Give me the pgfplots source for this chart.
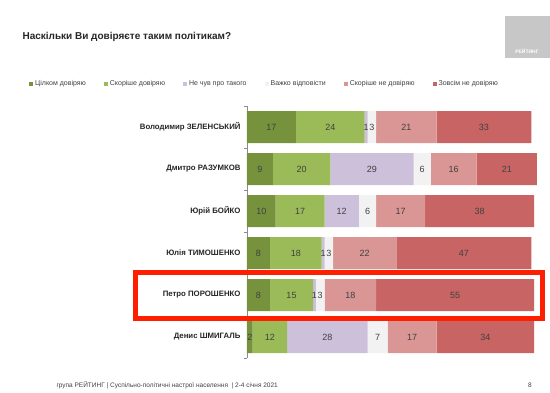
\documentclass[border=0pt]{standalone}
\usepackage{pgfplots}
\pgfplotsset{compat=1.18}
\usepackage{fontspec}
\setmainfont{Liberation Sans}
\definecolor{cA}{RGB}{118,146,60}
\definecolor{cB}{RGB}{155,187,89}
\definecolor{cC}{RGB}{204,192,218}
\definecolor{cD}{RGB}{242,242,242}
\definecolor{cE}{RGB}{217,150,148}
\definecolor{cF}{RGB}{200,100,100}
\definecolor{txt}{RGB}{64,64,64}
\begin{document}
\begin{tikzpicture}
\path[fill=white] (0pt,0pt) rectangle (550pt,-393pt);
% logo
\fill[black!22] (505pt,-16pt) rectangle (550pt,-58pt);
\node[font=\fontsize{5}{6}\selectfont\bfseries, text=white, anchor=south] at (527pt,-57pt) {РЕЙТИНГ};
% title
\node[anchor=west, font=\fontsize{10}{12}\selectfont\bfseries, text=black!85] at (19pt,-37pt) {Наскільки Ви довіряєте таким політикам?};
\begin{axis}[
  at={(247pt,-358pt)}, anchor=south west,
  scale only axis, width=290pt, height=252pt,
  xbar stacked, bar width=32pt,
  xmin=0, xmax=101,
  ymin=-0.5, ymax=5.5, y dir=reverse,
  ytick={0,...,5},
  yticklabels={Володимир ЗЕЛЕНСЬКИЙ, Дмитро РАЗУМКОВ, Юрій БОЙКО, Юлія ТИМОШЕНКО, Петро ПОРОШЕНКО, Денис ШМИГАЛЬ},
  yticklabel style={font=\fontsize{7.8}{9}\selectfont\bfseries, text=black!85, xshift=-3pt},
  minor ytick={-0.5,0.5,...,5.5},
  major tick length=0pt, minor tick length=3pt, tick align=outside,
  axis x line=none, axis y line*=left,
  y axis line style={draw=black!45, -},
  every minor tick/.style={draw=black!45},
  /pgf/number format/assume math mode=true,
  nodes near coords,
  every node near coord/.append style={font=\fontsize{9}{10}\selectfont, text=txt},
  legend columns=6,
  legend style={at={(-0.762,1.087)}, anchor=west, draw=none, fill=none,
    font=\fontsize{7}{8}\selectfont, text=black!75,
    /tikz/every even column/.append style={column sep=16pt}},
  legend image code/.code={\fill[#1] (0pt,-2pt) rectangle (4pt,2pt);},
  legend cell align=left,
]
\addplot[fill=cA, draw=none] coordinates {(17,0) (9,1) (10,2) (8,3) (8,4) (2,5)};
\addplot[fill=cB, draw=none] coordinates {(24,0) (20,1) (17,2) (18,3) (15,4) (12,5)};
\addplot[fill=cC, draw=none] coordinates {(1,0) (29,1) (12,2) (1,3) (1,4) (28,5)};
\addplot[fill=cD, draw=none] coordinates {(3,0) (6,1) (6,2) (3,3) (3,4) (7,5)};
\addplot[fill=cE, draw=none] coordinates {(21,0) (16,1) (17,2) (22,3) (18,4) (17,5)};
\addplot[fill=cF, draw=none] coordinates {(33,0) (21,1) (38,2) (47,3) (55,4) (34,5)};
\legend{Цілком довіряю, Скоріше довіряю, Не чув про такого, Важко відповісти, Скоріше не довіряю, Зовсім не довіряю}
\end{axis}
% highlight
\draw[line width=5pt, color={rgb,255:red,255;green,30;blue,0}] (135.5pt,-272.5pt) rectangle (542.5pt,-318.5pt);
% footer
\node[anchor=west, font=\fontsize{6.5}{8}\selectfont, text=black!75] at (53pt,-385pt) {група РЕЙТИНГ | Суспільно-політичні настрої населення \ | 2-4 січня 2021};
\node[font=\fontsize{6.5}{8}\selectfont, text=black!75] at (530pt,-385pt) {8};
\end{tikzpicture}
\end{document}
